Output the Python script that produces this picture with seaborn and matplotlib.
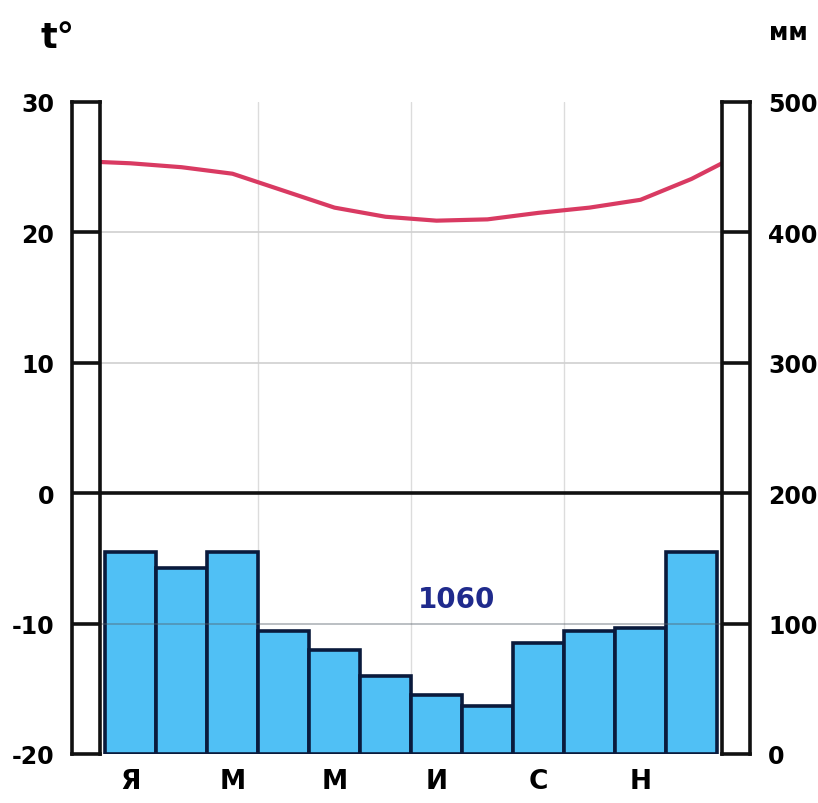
import matplotlib
matplotlib.use("Agg")
import matplotlib.pyplot as plt
import seaborn as sns
import numpy as np
import pandas as pd

# ---- data ----
months = ["Я", "Ф", "М", "А", "М", "И", "И", "А", "С", "О", "Н", "Д"]
month_labels = ["Я", "М", "М", "И", "С", "Н"]
precip_mm = [155, 143, 155, 94, 80, 60, 45, 37, 85, 94, 97, 155]
temp_c = [25.3, 25.0, 24.5, 23.2, 21.9, 21.2, 20.9, 21.0, 21.5, 21.9, 22.5, 24.1]
temp_edges = [25.4, 25.3]          # line value at left / right plot edge
temp_ticks = [-20, -10, 0, 10, 20, 30]
precip_ticks = [0, 100, 200, 300, 400, 500]
annual_total = "1060"

W, H = 818, 804
fig = plt.figure(figsize=(W / 100, H / 100), dpi=100)
sns.set_style("white")
plt.rcParams["font.family"] = ["DejaVu Sans"]
plt.rcParams["text.color"] = "black"
plt.rcParams["xtick.color"] = "black"
plt.rcParams["ytick.color"] = "black"

def fx(px):
    return px / W

def fy(py):
    return 1 - py / H

top_px, bot_px = 103, 755
plot_l, plot_r = 100, 722

ax = fig.add_axes([fx(plot_l), fy(bot_px), fx(plot_r - plot_l), (bot_px - top_px) / H])
df = pd.DataFrame({"pos": np.arange(12), "p": precip_mm})
sns.barplot(data=df, x="pos", y="p", ax=ax, color="#50c0f5", saturation=1,
            edgecolor="#0a1a3c", linewidth=2.6, width=1.0, zorder=2)
pad_units = 5 / 51
ax.set_xlim(-0.5 - pad_units, 11.5 + pad_units)
ax.set_ylim(0, 500)
for s in ax.spines.values():
    s.set_visible(False)
ax.set_xticks([0, 2, 4, 6, 8, 10])
ax.set_xticklabels(month_labels, fontsize=19, fontweight="bold", color="black")
ax.tick_params(axis="x", length=0, pad=10)
ax.set_yticks([])
ax.set_xlabel("")
ax.set_ylabel("")
for xv in [2.5, 5.5, 8.5]:
    ax.axvline(xv, color="#dcdcdc", lw=1.0, zorder=0)
for yv in [300, 400]:
    ax.axhline(yv, color="#d0d0d0", lw=1.2, zorder=0)
ax.axhline(100, color="#555f6a", lw=1.4, alpha=0.4, zorder=3)

ax_t = ax.twinx()
ax_t.set_ylim(-20, 30)
for s in ax_t.spines.values():
    s.set_visible(False)
ax_t.set_yticks([])
ax_t.axhline(0, color="#111111", lw=2.6, zorder=4)
line_x = [-0.5 - pad_units] + list(range(12)) + [11.5 + pad_units]
line_y = [temp_edges[0]] + temp_c + [temp_edges[1]]
sns.lineplot(x=line_x, y=line_y, ax=ax_t, color="#d93a62", lw=3.0, zorder=5)
ax_t.set_ylabel("")
ax_t.text(6.4, -8.1, annual_total, ha="center", va="center", fontsize=20,
          fontweight="bold", color="#1f2a8c")

# left column (temperature scale)
axl = fig.add_axes([fx(72), fy(bot_px), fx(28), (bot_px - top_px) / H])
axl.set_ylim(-20, 30)
axl.set_xlim(0, 1)
axl.set_xticks([])
axl.set_yticks(temp_ticks)
axl.set_yticklabels([str(v) for v in temp_ticks], fontsize=17, fontweight="bold", color="black")
axl.tick_params(axis="y", length=0, pad=13)
for v in temp_ticks[1:-1]:
    axl.axhline(v, color="#111111", lw=2.6)
for s in axl.spines.values():
    s.set_linewidth(2.6)
    s.set_color("#111111")

# right column (precipitation scale)
axr = fig.add_axes([fx(722), fy(bot_px), fx(28), (bot_px - top_px) / H])
axr.set_ylim(0, 500)
axr.set_xlim(0, 1)
axr.set_xticks([])
axr.yaxis.tick_right()
axr.set_yticks(precip_ticks)
axr.set_yticklabels([str(v) for v in precip_ticks], fontsize=17, fontweight="bold", color="black")
axr.tick_params(axis="y", length=0, pad=13)
for v in precip_ticks[1:-1]:
    axr.axhline(v, color="#111111", lw=2.6)
for s in axr.spines.values():
    s.set_linewidth(2.6)
    s.set_color("#111111")

fig.text(fx(58), fy(38), "t°", ha="center", va="center", fontsize=25, fontweight="bold", color="black")
fig.text(fx(788), fy(33), "мм", ha="center", va="center", fontsize=17, fontweight="bold", color="black")

fig.savefig("out.png", dpi=100)
